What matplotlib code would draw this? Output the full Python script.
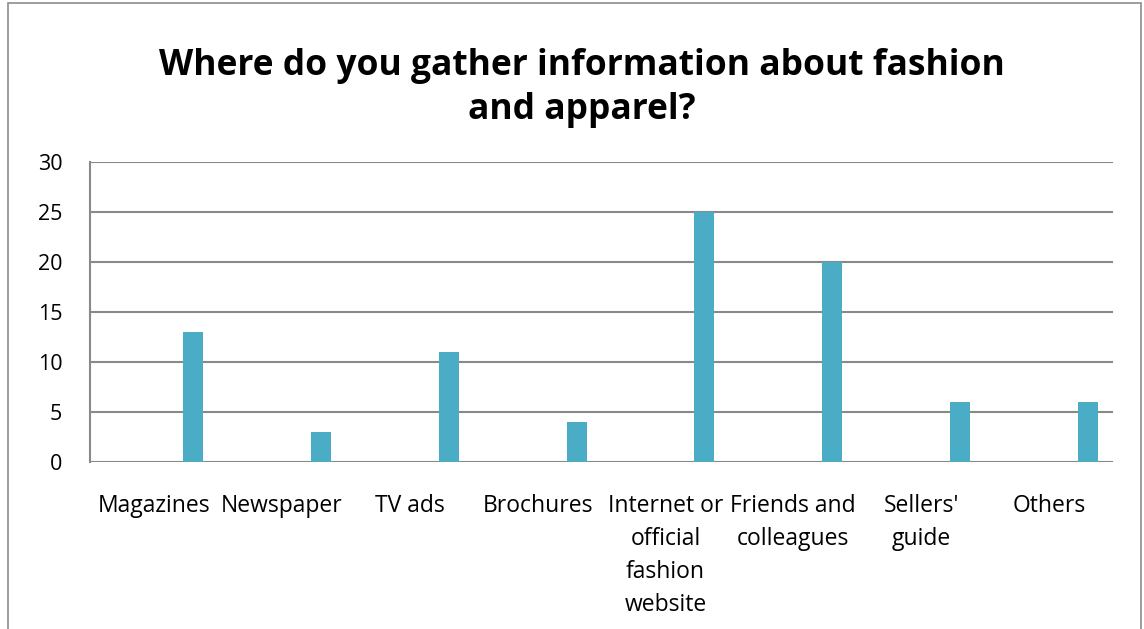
import matplotlib
matplotlib.use("Agg")
import matplotlib.pyplot as plt
from matplotlib.patches import Rectangle
import numpy as np

categories = ["Magazines", "Newspaper", "TV ads", "Brochures",
              "Internet or\nofficial\nfashion\nwebsite", "Friends and\ncolleagues",
              "Sellers'\nguide", "Others"]
values = [13, 3, 11, 4, 25, 20, 6, 6]
yticks = [0, 5, 10, 15, 20, 25, 30]
title = "Where do you gather information about fashion\nand apparel?"

plt.rcParams['font.family'] = ['Open Sans', 'DejaVu Sans']

fig = plt.figure(figsize=(11.44, 6.29), dpi=100)
fig.patch.set_facecolor('white')
# outer chart border
fig.add_artist(Rectangle((8/1144, -0.05), (1141-8)/1144, 1.05 - 3/629,
                         transform=fig.transFigure, fill=False,
                         edgecolor='#8c8c8c', linewidth=1.2))

ax = fig.add_axes([90/1144, 1-462/629, (1113-90)/1144, (462-162)/629])
x = np.arange(len(categories))
ax.bar(x + 0.305, values, width=0.156, color='#4BACC6', zorder=3)
ax.set_xlim(-0.5, len(categories) - 0.5)
ax.set_ylim(0, 30)
ax.set_yticks(yticks)
ax.set_yticklabels([str(t) for t in yticks], fontsize=15.5)
ax.set_xticks(x)
ax.set_xticklabels(categories, fontsize=16.5, linespacing=1.5, va='top')
ax.tick_params(axis='x', length=0, pad=23)
ax.tick_params(axis='y', length=0, pad=20)
ax.yaxis.grid(True, color='#898989', linewidth=1.5, zorder=0)
for s in ['top', 'right', 'bottom']:
    ax.spines[s].set_visible(False)
ax.spines['left'].set_color('#898989')
ax.spines['left'].set_linewidth(1.5)
ax.set_facecolor('white')

fig.text(582/1144, 1-88/629, title, ha='center', va='center',
         fontsize=25.5, fontweight='bold', linespacing=1.3)

fig.savefig('out.png', dpi=100)
